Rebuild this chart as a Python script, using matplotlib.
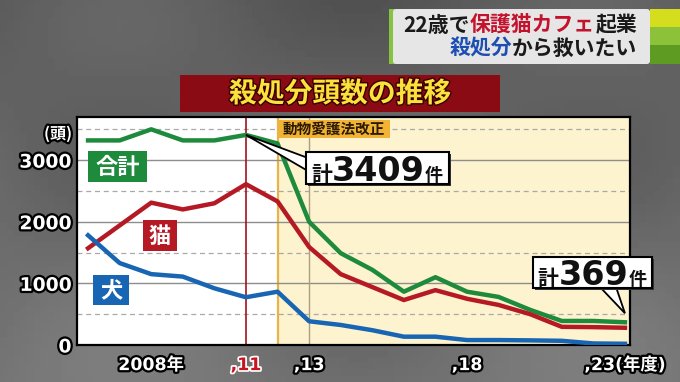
import numpy as np
import matplotlib
matplotlib.use("Agg")
import matplotlib.pyplot as plt
import matplotlib.patheffects as pe
from matplotlib.patches import Rectangle, Polygon, FancyBboxPatch

plt.rcParams['font.family'] = ['Noto Sans CJK JP', 'DejaVu Sans']

# data (年度, 頭)
years = list(range(2006, 2024))
total = [3320, 3320, 3500, 3320, 3320, 3409, 3270, 2000, 1490, 1220, 865, 1100, 865, 780, 570, 390, 390, 369]
cats = [1570, 1940, 2310, 2200, 2300, 2610, 2330, 1590, 1150, 940, 730, 890, 750, 650, 500, 295, 290, 280]
dogs = [1780, 1330, 1150, 1110, 920, 775, 865, 385, 325, 240, 135, 135, 80, 80, 75, 68, 25, 20]

xtick_pos = [2008, 2011, 2013, 2018, 2023]
xtick_lab = ["2008年", ",11", ",13", ",18", ",23(年度)"]
ytick_pos = [0, 1000, 2000, 3000]
law_year = 2012

GREEN = '#1e8a3c'
RED = '#b51a24'
BLUE = '#1765b3'

W, H = 680, 382
fig = plt.figure(figsize=(6.8, 3.82), dpi=100)

# background
bg = fig.add_axes([0, 0, 1, 1])
bg.set_xlim(0, W)
bg.set_ylim(H, 0)
bg.axis('off')
gy = np.linspace(0, 1, 60)[:, None]
gx = np.linspace(0, 1, 100)[None, :]
img = 0.36 + 0.10 * gy + 0.04 * np.sin(gx * 9) * np.cos(gy * 7)
bg.imshow(img, extent=[0, W, H, 0], cmap='gray', vmin=0, vmax=1, aspect='auto')

# chart axes
ax = fig.add_axes([77 / W, 1 - 345 / H, (630 - 77) / W, (345 - 117) / H], zorder=2)
ax.set_facecolor('white')
ax.set_xlim(2005.65, 2023.16)
ax.set_ylim(0, 3700)
ax.axvspan(law_year, 2024, color='#fdf3cf', zorder=0)
ax.axvline(law_year, color='#e8b348', lw=1.6, zorder=1)
for v in [1000, 2000, 3000]:
    ax.axhline(v, color='#8e8e8e', lw=1.0, zorder=1)
for v in [500, 1500, 2500, 3500]:
    ax.axhline(v, color='#a9a9a9', lw=0.9, ls=(0, (4, 3)), zorder=1)
ax.axvline(2011, color='#a3141c', lw=1.2, zorder=1)
ax.axvline(2013, color='#a89f85', lw=1.0, zorder=1)

ax.plot(years, total, color=GREEN, lw=3.2, zorder=3)
ax.plot(years, cats, color=RED, lw=3.2, zorder=3)
ax.plot(years, dogs, color=BLUE, lw=3.2, zorder=3)

for s in ax.spines.values():
    s.set_color('black')
    s.set_linewidth(1.6)

stroke_k = [pe.withStroke(linewidth=3.2, foreground='black')]
ax.set_yticks(ytick_pos)
ax.set_yticklabels([str(v) for v in ytick_pos], fontsize=13.5, fontweight='bold',
                   color='white', family=['DejaVu Sans'])
for t in ax.get_yticklabels():
    t.set_path_effects(stroke_k)
ax.set_xticks(xtick_pos)
ax.set_xticklabels(xtick_lab, fontsize=12.5, fontweight='bold', color='white',
                   family=['DejaVu Sans', 'Noto Sans CJK JP'])
for i, t in enumerate(ax.get_xticklabels()):
    if xtick_pos[i] == 2011:
        t.set_color('#c8141e')
        t.set_path_effects([pe.withStroke(linewidth=2.5, foreground='white')])
    else:
        t.set_path_effects(stroke_k)
ax.tick_params(length=0, axis='y', pad=4)
ax.tick_params(length=0, axis='x', pad=8)

# overlay for labels and call-outs (pixel coords)
ov = fig.add_axes([0, 0, 1, 1], zorder=5)
ov.set_xlim(0, W)
ov.set_ylim(H, 0)
ov.axis('off')
ov.patch.set_alpha(0)

renderer = fig.canvas.get_renderer()


def to_px(x, y):
    dx, dy = ax.transData.transform((x, y))
    return dx, H - dy


def runs(x, y, parts, ha='left', va='center'):
    txts = [ov.text(0, y, s, va=va, ha='left', **kw) for s, kw in parts]
    ws = [t.get_window_extent(renderer).width for t in txts]
    tot = sum(ws)
    start = {'left': x, 'right': x - tot, 'center': x - tot / 2}[ha]
    for t, w in zip(txts, ws):
        t.set_x(start)
        start += w


# unit label
ov.text(72, 134, "(頭)", ha='right', va='center', fontsize=11.5, fontweight='bold',
        color='white', path_effects=stroke_k)

# title bar
ov.add_patch(Rectangle((180, 75), 320, 37, fc='#8b0b14', ec='none'))
ov.text(340, 94, "殺処分頭数の推移", ha='center', va='center', fontsize=20,
        fontweight='bold', color='#f8e23c',
        path_effects=[pe.withStroke(linewidth=2, foreground='#3a0000')])

# top right caption
ov.add_patch(Rectangle((389, 9), 6, 55, fc='#86c440', ec='none'))
ov.add_patch(FancyBboxPatch((393, 9), 257, 55, boxstyle='round,pad=0,rounding_size=3',
                            fc='#e6e6e6', ec='none'))
ov.add_patch(Rectangle((650, 9), 30, 18, fc='#d5de1e', ec='none'))
ov.add_patch(Rectangle((650, 27), 30, 18, fc='#8cc23a', ec='none'))
ov.add_patch(Rectangle((650, 45), 30, 19, fc='#5d9b22', ec='none'))
bk = dict(fontsize=15, fontweight='bold', color='#1a1a1a')
runs(637, 25, [("22歳で", bk),
               ("保護猫カフェ", dict(bk, color='#c4122d')),
               ("起業", bk)], ha='right')
runs(637, 48, [("殺処分", dict(bk, color='#1d4fb3')),
               ("から救いたい", bk)], ha='right')

# series tags
for (x0, y0, w, h), s, c in [((88, 151, 59, 31), "合計", GREEN),
                             ((143, 220, 34, 31), "猫", RED),
                             ((93, 275, 36, 30), "犬", BLUE)]:
    ov.add_patch(Rectangle((x0, y0), w, h, fc=c, ec='none'))
    ov.text(x0 + w / 2, y0 + h / 2 + 1, s, ha='center', va='center', fontsize=16,
            fontweight='bold', color='white')

# law label
lx, _ = to_px(law_year, 0)
ov.add_patch(Rectangle((lx + 1, 120), 111, 18, fc='#f2b233', ec='none'))
ov.text(lx + 56, 129, "動物愛護法改正", ha='center', va='center', fontsize=10.5,
        fontweight='bold', color='#2a1a00')


def callout(box, tip, base, parts, cx, base_y):
    x0, y0, w, h = box
    ov.add_patch(Polygon([base[0], tip, base[1]], closed=True, fc='white', ec='black', lw=1.3))
    ov.add_patch(Rectangle((x0 + 2, y0 + 2), w, h, fc='#333333', ec='none'))
    ov.add_patch(Rectangle((x0, y0), w, h, fc='white', ec='black', lw=1.5))
    runs(cx, base_y, parts, ha='center', va='baseline')


kk = dict(fontweight='bold', color='#111111')
tip1 = to_px(years[5], total[5])
callout((306, 152, 143, 32), tip1, [(308, 158), (308, 171)],
        [("計", dict(kk, fontsize=15)),
         (f"{total[5]}", dict(kk, fontsize=24, family=['DejaVu Sans'])),
         ("件", dict(kk, fontsize=13))], 377, 181)
tx, ty = to_px(years[-1], total[-1])
callout((533, 257, 119, 31), (tx, ty - 9), [(600, 287), (616, 287)],
        [("計", dict(kk, fontsize=15)),
         (f"{total[-1]}", dict(kk, fontsize=24, family=['DejaVu Sans'])),
         ("件", dict(kk, fontsize=13))], 592, 285)

fig.savefig("out.png", dpi=100)
